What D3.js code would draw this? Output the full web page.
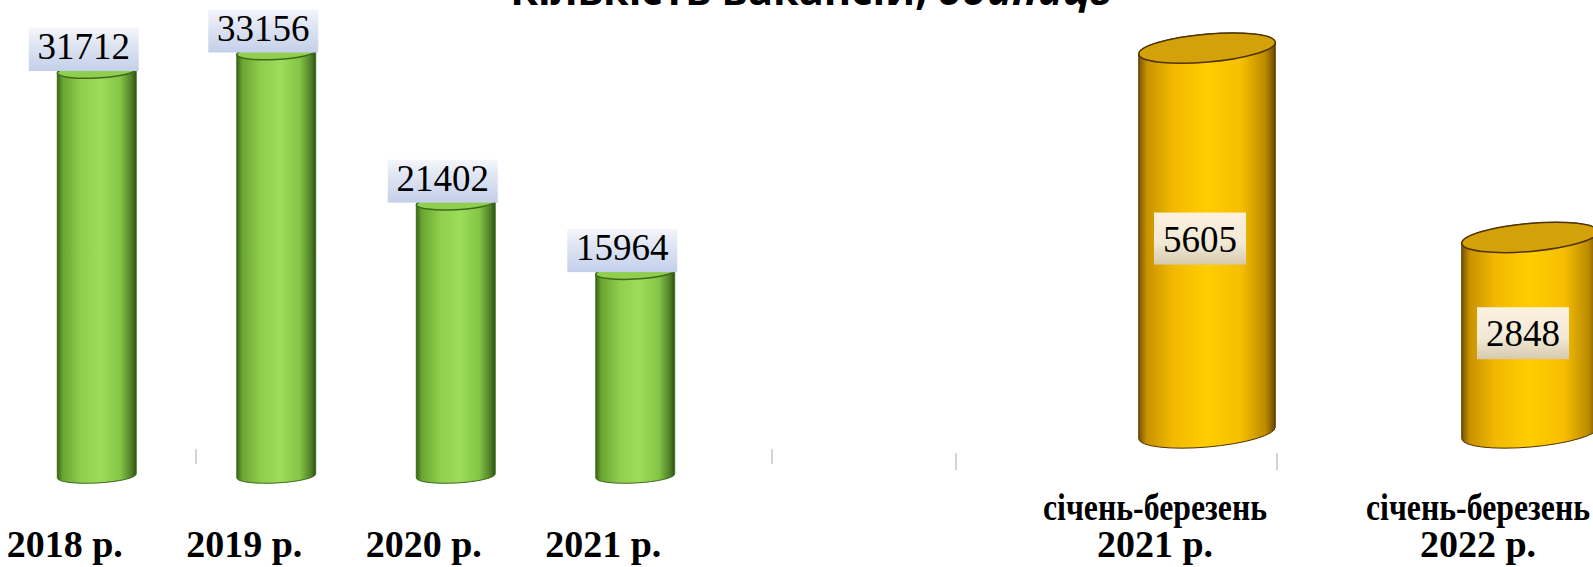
<!DOCTYPE html>
<html>
<head>
<meta charset="UTF-8">
<script src="https://cdn.jsdelivr.net/npm/d3@7"></script>
<title>Кількість вакансій</title>
<style>
  body { margin: 0; background: #fff; }
  svg { display: block; }
</style>
</head>
<body>
<div id="container"></div>
<script>
// дані
var years = ["2018 р.", "2019 р.", "2020 р.", "2021 р."];
var yearValues = [31712, 33156, 21402, 15964];
var periods = ["I кв. 2021", "I кв. 2022"];
var periodLines = [["січень-березень", "2021 р."], ["січень-березень", "2022 р."]];
var periodValues = [5605, 2848];
var titleMain = "Кількість вакансій, ";
var titleUnit = "одиниць";

var width = 1593, height = 567;

var svg = d3.select("#container").append("svg")
  .attr("width", width)
  .attr("height", height);

var defs = svg.append("defs");
function hGrad(id, stops) {
  var g = defs.append("linearGradient").attr("id", id)
    .attr("x1", "0").attr("x2", "1").attr("y1", "0").attr("y2", "0");
  stops.forEach(function (s) { g.append("stop").attr("offset", s[0]).attr("stop-color", s[1]); });
}
function vGrad(id, stops) {
  var g = defs.append("linearGradient").attr("id", id)
    .attr("x1", "0").attr("x2", "0").attr("y1", "0").attr("y2", "1");
  stops.forEach(function (s) { g.append("stop").attr("offset", s[0]).attr("stop-color", s[1]); });
}
hGrad("greenBody", [[0, "#3a6418"], [0.07, "#6aa532"], [0.3, "#8fce4e"], [0.55, "#9ddd5b"], [0.8, "#84c446"], [0.94, "#4f7f25"], [1, "#2d4f12"]]);
hGrad("yellowBody", [[0, "#7a5600"], [0.06, "#c89300"], [0.25, "#f2b900"], [0.5, "#ffcd00"], [0.75, "#f6be00"], [0.93, "#bb8a00"], [1, "#6a4800"]]);
vGrad("blueBox", [[0, "#f4f6fb"], [0.35, "#e0e6f3"], [1, "#c4d0ea"]]);
vGrad("creamBox", [[0, "#fcf1dd"], [0.6, "#f1e8d6"], [1, "#d6caac"]]);

// циліндр: бокова поверхня + верхній еліпс
function cylinder(g, cx, top, base, rx, ry, rot, body, topFill, stroke) {
  var a = rot * Math.PI / 180;
  var dx = rx * Math.cos(a), dy = rx * Math.sin(a);
  var path = "M" + (cx - dx) + "," + (top - dy) +
    "L" + (cx - dx) + "," + (base - dy) +
    "A" + rx + "," + ry + " " + rot + " 0 0 " + (cx + dx) + "," + (base + dy) +
    "L" + (cx + dx) + "," + (top + dy) +
    "A" + rx + "," + ry + " " + rot + " 0 0 " + (cx - dx) + "," + (top - dy) + "Z";
  g.append("path").attr("d", path)
    .attr("fill", "url(#" + body + ")")
    .attr("stroke", stroke).attr("stroke-width", 1);
  g.append("ellipse")
    .attr("cx", cx).attr("cy", top).attr("rx", rx).attr("ry", ry)
    .attr("transform", "rotate(" + rot + "," + cx + "," + top + ")")
    .attr("fill", topFill)
    .attr("stroke", stroke).attr("stroke-width", 1.5);
}

// заголовок (обрізаний зверху)
var title = svg.append("text")
  .attr("x", 811).attr("y", 4.5)
  .attr("text-anchor", "middle")
  .style("font-family", "'Open Sans', sans-serif")
  .style("font-weight", "bold")
  .style("font-size", "41.5px");
title.append("tspan").text(titleMain);
title.append("tspan").style("font-style", "italic").text(titleUnit);

// ---------- ліва діаграма: роки ----------
var xL = d3.scaleBand().domain(years).range([7, 725]);
var floorL = d3.scaleBand().domain(years).range([4, 772]);
var yL = d3.scaleLinear().domain([0, 35000]).range([476, 29]);
var barWL = 79, ryL = 7;

svg.append("g").selectAll("line")
  .data([floorL(years[1]), floorL.range()[1]])
  .enter().append("line")
  .attr("x1", function (d) { return d; }).attr("x2", function (d) { return d; })
  .attr("y1", 449).attr("y2", 464)
  .attr("stroke", "#d4d4d4").attr("stroke-width", 2);

var barsL = svg.append("g").selectAll("g")
  .data(years)
  .enter().append("g");
barsL.each(function (d, i) {
  var cx = xL(d) + xL.bandwidth() / 2;
  cylinder(d3.select(this), cx, yL(yearValues[i]), yL(0), barWL / 2, ryL, -3,
    "greenBody", "#8fce4e", "#3d6a1c");
});

var labL = svg.append("g").selectAll("g")
  .data(years)
  .enter().append("g")
  .attr("transform", function (d, i) {
    return "translate(" + (xL(d) + xL.bandwidth() / 2 - 13) + "," + yL(yearValues[i]) + ")";
  });
labL.append("rect")
  .attr("x", -55).attr("y", -43).attr("width", 110).attr("height", 43)
  .attr("fill", "url(#blueBox)");
labL.append("text")
  .attr("text-anchor", "middle").attr("y", -12)
  .style("font-family", "'Liberation Serif', 'Times New Roman', serif")
  .style("font-size", "37px")
  .text(function (d, i) { return yearValues[i]; });

svg.append("g").selectAll("text")
  .data(years)
  .enter().append("text")
  .attr("x", function (d) { return xL(d) + xL.bandwidth() / 2 - 32; })
  .attr("y", 557)
  .attr("text-anchor", "middle")
  .style("font-family", "'Liberation Serif', 'Times New Roman', serif")
  .style("font-weight", "bold")
  .style("font-size", "38px")
  .text(function (d) { return d; });

// ---------- права діаграма: січень-березень ----------
var xR = d3.scaleBand().domain(periods).range([1045.5, 1691.5]);
var floorR = d3.scaleBand().domain(periods).range([956, 1598]);
var yR = d3.scaleLinear().domain([0, 6000]).range([433, 21]);
var barWR = 137, ryR = 14;

svg.append("g").selectAll("line")
  .data(periods)
  .enter().append("line")
  .attr("x1", function (d) { return floorR(d); }).attr("x2", function (d) { return floorR(d); })
  .attr("y1", 453).attr("y2", 470)
  .attr("stroke", "#d4d4d4").attr("stroke-width", 2);

var barsR = svg.append("g").selectAll("g")
  .data(periods)
  .enter().append("g");
barsR.each(function (d, i) {
  var cx = xR(d) + xR.bandwidth() / 2;
  cylinder(d3.select(this), cx, yR(periodValues[i]), yR(0), barWR / 2, ryR, -5,
    "yellowBody", "#d3a10a", "#4f3300");
});

var labR = svg.append("g").selectAll("g")
  .data(periods)
  .enter().append("g")
  .attr("transform", function (d, i) {
    var cy = (yR(periodValues[i]) + yR(0)) / 2 - 2;
    return "translate(" + (xR(d) + xR.bandwidth() / 2 - 7) + "," + cy + ")";
  });
labR.append("rect")
  .attr("x", -46).attr("y", -26).attr("width", 92).attr("height", 52)
  .attr("fill", "url(#creamBox)");
labR.append("text")
  .attr("text-anchor", "middle").attr("y", 13)
  .style("font-family", "'Liberation Serif', 'Times New Roman', serif")
  .style("font-size", "37px")
  .text(function (d, i) { return periodValues[i]; });

// підписи у два рядки, перший рядок стиснутий як в оригіналі
var catR = svg.append("g").selectAll("g")
  .data(periods)
  .enter().append("g")
  .attr("transform", function (d) {
    return "translate(" + (xR(d) + xR.bandwidth() / 2 - 52) + ",0)";
  });
catR.selectAll("text")
  .data(function (d, i) { return periodLines[i]; })
  .enter().append("text")
  .attr("y", function (d, j) { return j === 0 ? 520 : 557; })
  .attr("text-anchor", "middle")
  .attr("textLength", function (d, j) { return j === 0 ? 224 : null; })
  .attr("lengthAdjust", "spacingAndGlyphs")
  .style("font-family", "'Liberation Serif', 'Times New Roman', serif")
  .style("font-weight", "bold")
  .style("font-size", "38px")
  .text(function (d) { return d; });
</script>
</body>
</html>
